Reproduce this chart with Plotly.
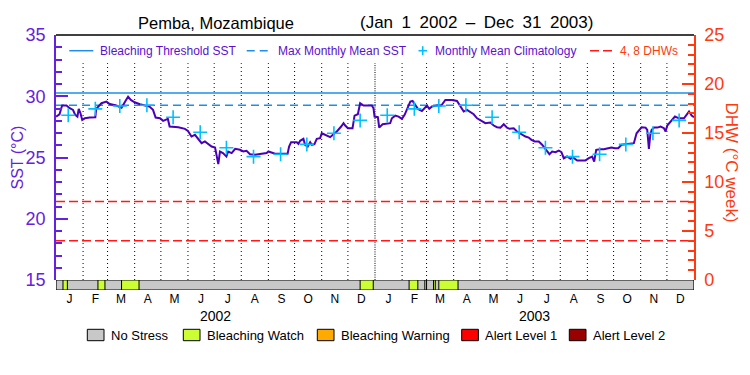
import pandas as pd
import plotly.graph_objects as go

# ---------------- data ----------------
TITLE_SITE = "Pemba, Mozambique"
TITLE_DATES = "(Jan 1 2002 – Dec 31 2003)"
START = pd.Timestamp("2002-01-01")
END = pd.Timestamp("2004-01-01")

# SST readings: days since 2002-01-01 and value (deg C)
sst_day = [0, 4, 7, 12, 15.7, 19.5, 22, 24.5, 26, 28, 30, 33, 38.6, 45, 46, 52, 57.7, 61.5, 69, 75,
           79.5, 82.5, 85.6, 90, 96, 101.6, 107, 111, 114, 119, 122.6, 128, 130, 140, 147.5, 151, 155,
           159, 166.6, 170.4, 178, 182, 184, 185.7, 187.6, 191, 195, 197, 201, 205, 210.5, 214.3, 218,
           222, 227.7, 235, 241, 243, 246.8, 250.7, 265, 266.7, 269, 275.5, 277.4, 279.3, 283.1, 285,
           288, 290.8, 292.7, 295.7, 298.4, 302.2, 304.1, 308, 313.7, 317.5, 321.3, 326.3, 329, 330.9,
           334, 339.3, 341.6, 345.4, 348, 351.9, 361.4, 363.3, 364.5, 368.3, 369.8, 373.7, 382.4, 384.3,
           388.2, 392, 395.8, 398.9, 401.5, 405.4, 408, 411.1, 414.1, 418.7, 421.8, 424.5, 427.1, 430.2,
           435.9, 440.9, 445.5, 453.1, 458.8, 462.7, 466.5, 470.3, 474.1, 477.9, 481.8, 485.6, 491.3,
           497, 500.8, 504.6, 508.5, 512.3, 516.1, 518.8, 523.7, 527.5, 532.5, 537.1, 540.9, 544, 547.8,
           552.4, 556.2, 560.8, 564.6, 567.7, 571.5, 575.3, 578.3, 581, 584.8, 588.7, 591.3, 596.3,
           605.8, 609.7, 613.5, 615.8, 618.1, 623.1, 626.9, 631.8, 635.6, 639.5, 643.3, 647.1, 650.9,
           655.5, 661.2, 664.3, 667, 670, 674.6, 676.5, 678.4, 680, 681.5, 684.2, 688, 691.8, 695.6,
           697.5, 699.4, 703.2, 708.2, 712.8, 718.5, 724.3, 727.3, 730]
sst_val = [28.34, 28.53, 29.24, 29.24, 29.02, 28.88, 28.48, 28.34, 28.97, 28.61, 28.07, 28.20, 28.26,
           28.29, 28.97, 29.43, 29.56, 29.37, 29.24, 29.07, 29.62, 29.97, 29.70, 29.51, 29.35, 29.24,
           29.16, 28.89, 28.26, 28.21, 27.99, 28.15, 27.53, 27.47, 27.34, 27.17, 26.71, 26.85, 26.17,
           26.31, 25.90, 25.82, 24.95, 24.46, 25.49, 25.36, 25.08, 25.49, 25.36, 25.71, 25.63, 25.49,
           25.55, 25.27, 25.22, 25.27, 25.36, 25.49, 25.41, 25.30, 25.30, 25.90, 26.25, 26.25, 26.12,
           26.36, 26.52, 26.04, 25.90, 26.25, 26.04, 26.09, 26.52, 26.58, 26.98, 26.85, 26.66, 26.90,
           27.12, 27.53, 27.80, 27.61, 27.39, 27.39, 28.42, 28.53, 29.43, 29.24, 29.24, 29.02, 28.34,
           28.29, 27.44, 27.72, 27.80, 28.20, 28.42, 28.34, 28.15, 28.48, 28.97, 29.56, 29.62, 29.24,
           28.97, 28.80, 29.07, 29.24, 28.97, 29.16, 29.24, 29.24, 29.70, 29.70, 29.62, 29.16, 28.75,
           28.88, 28.69, 28.53, 28.20, 28.04, 27.80, 27.85, 27.61, 27.47, 27.44, 27.72, 27.44, 27.34,
           27.39, 27.12, 26.90, 26.71, 26.63, 26.44, 26.31, 26.31, 26.04, 25.63, 25.27, 25.49, 25.44,
           25.57, 25.44, 24.94, 25.08, 24.89, 25.03, 24.76, 24.76, 24.94, 25.08, 24.67, 25.63, 25.68,
           25.68, 25.76, 25.82, 25.76, 25.76, 26.04, 26.09, 26.12, 26.17, 26.98, 27.25, 27.47, 27.44,
           27.25, 25.71, 26.85, 27.25, 27.44, 27.44, 27.53, 27.39, 27.12, 27.61, 27.94, 28.34, 28.20,
           28.20, 28.75, 28.42, 28.29]

# monthly mean climatology (Jan..Dec)
clim_month_vals = [28.45, 28.97, 29.20, 29.27, 28.28, 27.06, 25.80, 25.07, 25.27, 26.07, 26.98, 28.03]
mmm = 29.27
bleach_thresh = mmm + 1.0
dhw_levels = [4, 8]

# stress-level periods (level index into status_names)
status_start = ["2002-01-09", "2002-02-18", "2002-03-17", "2002-12-15",
                "2003-02-09", "2003-02-27", "2003-03-09", "2003-03-15"]
status_end = ["2002-01-14", "2002-02-26", "2002-04-06", "2002-12-30",
              "2003-02-19", "2003-03-01", "2003-03-11", "2003-04-06"]
status_level = [1, 1, 1, 1, 1, 1, 1, 1]
status_names = ["No Stress", "Bleaching Watch", "Bleaching Warning", "Alert Level 1", "Alert Level 2"]
status_colors = ["#c8c8c8", "#ccff33", "#ffaa00", "#ff0000", "#990000"]

month_letters = ["J", "F", "M", "A", "M", "J", "J", "A", "S", "O", "N", "D"]
years = [2002, 2003]

# ---------------- styling ----------------
W, H = 750, 375
ML, MR, MT, MB = 56, 56, 35, 85
PW, PH = W - ML - MR, H - MT - MB
BAR_PX = 10
bar_frac = BAR_PX / PH

def fx(px):
    return (px - ML) / PW

def fy(py):
    return (H - MB - py) / PH

FONT = "Liberation Sans, Arial, sans-serif"
PURPLE_AX = "#6422e0"
PURPLE_TXT = "#5a10d0"
SST_COL = "#4a00b8"
BLUE = "#1e8fe8"
CYAN = "#00bfff"
RED = "#ff1a1a"
ORANGE = "#ff3a10"

sst_x = [START + pd.to_timedelta(d, unit="D") for d in sst_day]

month_starts = [pd.Timestamp(y, m, 1) for y in years for m in range(1, 13)]
month_ends = month_starts[1:] + [END]
month_mid = [s + (e - s) / 2 for s, e in zip(month_starts, month_ends)]
clim_x = [s + pd.Timedelta(days=14) for s in month_starts]
clim_y = clim_month_vals * len(years)

fig = go.Figure()

fig.add_trace(go.Scatter(x=[START, END], y=[bleach_thresh] * 2, mode="lines",
                         line=dict(color=BLUE, width=1.5), yaxis="y", hoverinfo="skip"))
fig.add_trace(go.Scatter(x=[START, END], y=[mmm] * 2, mode="lines",
                         line=dict(color=BLUE, width=1.5, dash="8px,5px"), yaxis="y", hoverinfo="skip"))
for lv in dhw_levels:
    fig.add_trace(go.Scatter(x=[START, END], y=[lv] * 2, mode="lines",
                             line=dict(color=RED, width=1.5, dash="9px,4px"), yaxis="y2",
                             hoverinfo="skip"))
fig.add_trace(go.Scatter(x=sst_x, y=sst_val, mode="lines",
                         line=dict(color=SST_COL, width=2), yaxis="y"))
fig.add_trace(go.Scatter(x=clim_x, y=clim_y, mode="markers", yaxis="y",
                         marker=dict(symbol="cross-thin", size=10,
                                     line=dict(color=CYAN, width=1.6))))

shapes = []
# dotted month separators
for s in month_starts[1:]:
    is_year = (s.month == 1)
    shapes.append(dict(type="line", xref="x", yref="y", x0=s, x1=s, y0=15, y1=32.7,
                       line=dict(color="black", width=1, dash="1px,1.3px" if is_year else "1px,3px"),
                       layer="below"))
# status bar background
shapes.append(dict(type="rect", xref="x", yref="y3", x0=START, x1=END, y0=0, y1=1,
                   fillcolor=status_colors[0], line=dict(color="black", width=1.2)))
for s0, s1, lv in zip(status_start, status_end, status_level):
    shapes.append(dict(type="rect", xref="x", yref="y3", x0=s0, x1=s1, y0=0, y1=1,
                       fillcolor=status_colors[lv], line=dict(color="black", width=1)))
# top frame line
shapes.append(dict(type="line", xref="paper", yref="paper", x0=0, x1=1, y0=1, y1=1,
                   line=dict(color="black", width=1.5)))

annotations = []
# title (wide spaces mimic the wide stroke font of the original)
annotations.append(dict(text=TITLE_SITE, xref="paper", yref="paper", x=fx(215.5), y=fy(23),
                        showarrow=False, font=dict(size=16.5, color="black", family=FONT),
                        xanchor="center", yanchor="middle"))
annotations.append(dict(text=TITLE_DATES.replace(" ", "\u2002"), xref="paper", yref="paper",
                        x=fx(476.5), y=fy(23),
                        showarrow=False, font=dict(size=17, color="black", family=FONT),
                        xanchor="center", yanchor="middle"))
# axis titles
annotations.append(dict(text="SST (°C)", xref="paper", yref="paper", x=fx(17), y=fy(157.5),
                        showarrow=False, textangle=-90, font=dict(size=16, color=PURPLE_AX, family=FONT),
                        xanchor="center", yanchor="middle"))
annotations.append(dict(text="DHW (°C week)", xref="paper", yref="paper", x=fx(731.5), y=fy(162),
                        showarrow=False, textangle=90, font=dict(size=17, color=ORANGE, family=FONT),
                        xanchor="center", yanchor="middle"))
# year labels
for y in years:
    annotations.append(dict(text=str(y), xref="x", yref="paper",
                            x=pd.Timestamp(y, 1, 1) + (pd.Timestamp(y + 1, 1, 1) - pd.Timestamp(y, 1, 1)) / 2,
                            y=fy(315.5), showarrow=False, font=dict(size=14, color="black", family=FONT),
                            xanchor="center", yanchor="middle"))

# top legend
LEG_Y = 50.7
leg_font = dict(size=12, color=PURPLE_TXT, family=FONT)
shapes.append(dict(type="line", xref="paper", yref="paper", x0=fx(69.3), x1=fx(93.3),
                   y0=fy(LEG_Y), y1=fy(LEG_Y), line=dict(color=BLUE, width=1.5)))
annotations.append(dict(text="Bleaching Threshold SST", xref="paper", yref="paper", x=fx(97.5),
                        y=fy(LEG_Y), showarrow=False, font=leg_font, xanchor="left", yanchor="middle"))
shapes.append(dict(type="line", xref="paper", yref="paper", x0=fx(246.7), x1=fx(268),
                   y0=fy(LEG_Y), y1=fy(LEG_Y), line=dict(color=BLUE, width=1.5, dash="8px,5px")))
annotations.append(dict(text="Max Monthly Mean SST", xref="paper", yref="paper", x=fx(275.5),
                        y=fy(LEG_Y), showarrow=False, font=leg_font, xanchor="left", yanchor="middle"))
shapes.append(dict(type="line", xref="paper", yref="paper", x0=fx(418.5), x1=fx(427),
                   y0=fy(LEG_Y), y1=fy(LEG_Y), line=dict(color=CYAN, width=1.6)))
shapes.append(dict(type="line", xref="paper", yref="paper", x0=fx(422.7), x1=fx(422.7),
                   y0=fy(LEG_Y - 4.5), y1=fy(LEG_Y + 4.5), line=dict(color=CYAN, width=1.6)))
annotations.append(dict(text="Monthly Mean Climatology", xref="paper", yref="paper", x=fx(433),
                        y=fy(LEG_Y), showarrow=False, font=leg_font, xanchor="left", yanchor="middle"))
shapes.append(dict(type="line", xref="paper", yref="paper", x0=fx(590), x1=fx(613.3),
                   y0=fy(LEG_Y), y1=fy(LEG_Y), line=dict(color=RED, width=1.5, dash="9px,4px")))
annotations.append(dict(text="4, 8 DHWs", xref="paper", yref="paper", x=fx(617.5),
                        y=fy(LEG_Y), showarrow=False, font=dict(size=12, color=ORANGE, family=FONT),
                        xanchor="left", yanchor="middle"))

# bottom legend
box_x = [87.3, 183.3, 317.3, 461.7, 569.3]
for bx, name, col in zip(box_x, status_names, status_colors):
    shapes.append(dict(type="rect", xref="paper", yref="paper", x0=fx(bx), x1=fx(bx + 16.7),
                       y0=fy(340.7), y1=fy(329.3), fillcolor=col, line=dict(color="black", width=1)))
    annotations.append(dict(text=name, xref="paper", yref="paper", x=fx(bx + 21.5), y=fy(335.5),
                            showarrow=False, font=dict(size=13, color="black", family=FONT),
                            xanchor="left", yanchor="middle"))

fig.update_layout(
    width=W, height=H, margin=dict(l=ML, r=MR, t=MT, b=MB, pad=0),
    paper_bgcolor="white", plot_bgcolor="white", showlegend=False,
    font=dict(family=FONT),
    xaxis=dict(type="date", range=[START, END], domain=[0, 1], anchor="y3",
               tickmode="array", tickvals=month_mid, ticktext=month_letters * len(years),
               tickangle=0, showgrid=False, zeroline=False, showline=False, ticks="",
               tickfont=dict(size=12, color="black", family=FONT)),
    yaxis=dict(domain=[bar_frac, 1], range=[15, 35], anchor="x", tickmode="linear", tick0=15, dtick=5,
               ticks="inside", ticklen=12, tickwidth=1.5, tickcolor=PURPLE_AX,
               showline=True, linecolor=PURPLE_AX, linewidth=1.5, showgrid=False, zeroline=False,
               tickfont=dict(size=18, color=PURPLE_AX, family=FONT), ticklabelstandoff=5,
               minor=dict(dtick=1, ticks="inside", ticklen=6, tickwidth=1.5, tickcolor=PURPLE_AX,
                          showgrid=False)),
    yaxis2=dict(domain=[bar_frac, 1], range=[0, 25], overlaying="y", side="right", anchor="x",
                tickmode="linear", tick0=0, dtick=5, ticks="inside", ticklen=12, tickwidth=1.5,
                tickcolor=ORANGE, showline=True, linecolor=ORANGE, linewidth=1.5, showgrid=False,
                zeroline=False, tickfont=dict(size=18, color=ORANGE, family=FONT), ticklabelstandoff=5,
                minor=dict(dtick=1, ticks="inside", ticklen=6, tickwidth=1.5, tickcolor=ORANGE,
                           showgrid=False)),
    yaxis3=dict(domain=[0, bar_frac], range=[0, 1], anchor="x", visible=False, fixedrange=True),
    shapes=shapes, annotations=annotations,
)

fig.write_html("out.html", config={"displayModeBar": False},
               post_script="document.body.style.margin='0px';")
